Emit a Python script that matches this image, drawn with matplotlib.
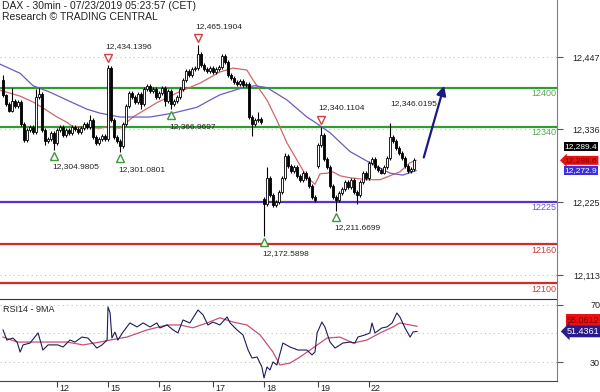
import matplotlib.pyplot as plt
from matplotlib import transforms

plt.rcParams['font.family'] = ['Liberation Sans', 'DejaVu Sans']

# DAX 30min candles, one entry per bar
closes = [12388, 12375, 12365, 12380, 12372, 12378, 12345, 12320, 12335, 12340,
          12332, 12385, 12390, 12335, 12318, 12322, 12330, 12315, 12335, 12340,
          12328, 12335, 12330, 12340, 12336, 12332, 12338, 12345, 12340, 12350,
          12325, 12315, 12322, 12326, 12322, 12430, 12350, 12325, 12318, 12310,
          12345, 12372, 12392, 12385, 12378, 12390, 12375, 12398, 12402, 12395,
          12398, 12385, 12392, 12400, 12380, 12395, 12375, 12380, 12385, 12398,
          12412, 12425, 12420, 12428, 12430, 12452, 12435, 12428, 12425, 12430,
          12424, 12428, 12432, 12448, 12440, 12420, 12415, 12408, 12405, 12410,
          12404, 12406, 12355, 12345, 12350, 12352, 12348, 12222, 12262, 12235,
          12220, 12225, 12240, 12262, 12295, 12280, 12272, 12278, 12265, 12258,
          12270, 12262, 12250, 12232, 12228, 12312, 12328, 12290, 12278, 12250,
          12232, 12228, 12238, 12245, 12255, 12248, 12258, 12240, 12235, 12255,
          12270, 12262, 12285, 12290, 12278, 12274, 12270, 12278, 12292, 12325,
          12318, 12308, 12300, 12292, 12280, 12272, 12276, 12289.4]
gap_opens = {0: 12412, 87: 12230, 105: 12280}
high_marks = {0: 12419, 3: 12400, 11: 12398, 12: 12400, 29: 12358, 35: 12434.1396,
              65: 12465.1904, 73: 12452, 85: 12362, 88: 12279, 94: 12300,
              106: 12340.1104, 129: 12346.0195}
low_marks = {14: 12312, 17: 12304.9805, 39: 12301.0801, 46: 12368, 54: 12372,
             56: 12366.9697, 83: 12326, 87: 12172.5898, 111: 12211.6699, 118: 12222}

# moving averages (bar position, price)
ma_red_x = [-1, 1.3, 5.7, 10, 13.3, 18, 21.3, 23.3, 32.3, 34.7, 39, 43.3, 51.3, 58,
            65.7, 72.3, 76.7, 81.3, 83.3, 88, 91.3, 94.7, 98, 101.3, 104, 105.7, 108,
            110, 112.3, 115.7, 121.3, 125.7, 129, 132.3, 135.7, 137.7]
ma_red_y = [12396, 12393, 12387, 12378, 12369, 12355, 12347, 12340, 12338, 12340,
            12338, 12355, 12377, 12392, 12407, 12424, 12430, 12427, 12412, 12381,
            12350, 12315, 12289, 12263, 12252, 12268, 12269, 12271, 12265, 12262,
            12259, 12259, 12265, 12271, 12285, 12288.6]
ma_blue_x = [-1, 5.7, 10, 15.7, 21.3, 28, 32.3, 39, 49, 56.7, 64.7, 69, 72.3, 80, 84,
             88, 94.7, 101.3, 104, 109, 115.7, 122.3, 129, 133.3, 137.7]
ma_blue_y = [12436, 12422, 12403, 12393, 12381, 12367, 12361, 12355, 12355, 12361,
             12370, 12381, 12389, 12400, 12403, 12400, 12381, 12355, 12347, 12331,
             12302, 12285, 12269, 12266, 12272.9]

# RSI14 and its 9MA
rsi_x = [0, 1.3, 3.3, 4.7, 5.7, 6.7, 9, 11.7, 13.3, 15, 18.3, 20, 22.3, 24, 26.3, 28.3,
         31.3, 33, 34.7, 35, 35.7, 36.3, 37.3, 38.3, 40, 42.3, 44.7, 46.7, 49, 51.3,
         52.3, 54.7, 56.7, 58.3, 60, 62.3, 65, 66.7, 68.3, 70, 72.3, 74.7, 75.7, 78,
         80, 81.7, 83, 84.7, 86.3, 87, 88, 89, 90, 91.3, 93.3, 95.7, 98.3, 101.3, 103,
         104, 104.7, 106.3, 107.3, 109, 110.7, 113.3, 115.7, 117.3, 118.3, 120.7,
         122.3, 123, 124, 126.3, 128, 129.7, 131.3, 132.3, 134, 135.7, 136.7, 138]
rsi_y = [52.5, 45.4, 46.8, 44, 37, 42, 43.3, 50.4, 38.4, 42, 42, 40.5, 45.4, 44, 47.5,
         46.8, 39.8, 42, 45.4, 68.6, 64.4, 46.8, 51, 45.4, 51, 57.4, 54.6, 57.4, 54.6,
         57.4, 53.9, 56, 52.5, 50.4, 59.5, 57.4, 66.5, 63, 56, 58, 56, 61.6, 57.4, 52.5,
         49, 38.4, 32.8, 33.5, 26.5, 18.8, 26.5, 24.4, 30, 27.9, 43.3, 40.5, 38.4, 38.4,
         35, 37, 50.4, 58, 54.6, 44, 39.8, 43.3, 44, 43.3, 47.5, 49, 50.4, 57.4, 50.4,
         53.9, 54.6, 57.4, 64.4, 61.6, 53.9, 47.5, 51.1, 51.4361]
rsi_ma_x = [0, 4.7, 10, 19, 21.3, 26.7, 32.3, 35.7, 41.3, 48, 54.7, 59, 63.3, 68, 72.3,
            76.7, 81.3, 85.7, 90, 92.3, 95.7, 99, 103.3, 108, 112.3, 116.7, 121.3, 125.7,
            130, 132.3, 135.7, 138]
rsi_ma_y = [47.5, 44, 44, 44, 44, 42, 44, 45.4, 47.5, 52.5, 56, 56, 54, 57.4, 61, 58,
            56, 49, 37, 27.9, 29.3, 33.5, 39.8, 46.8, 47.5, 43.3, 45.4, 50.4, 54.6, 57.4,
            56, 55.0612]

levels = [12400, 12340, 12225, 12160, 12100]
level_colors = ['#2f9e2f', '#2f9e2f', '#5b2fd6', '#d42a2a', '#d42a2a']
level_text_colors = ['#55a855', '#55a855', '#6a55c8', '#c84040', '#c84040']
price_ticks = [12113, 12225, 12336, 12447]
rsi_ticks = [30, 70]
day_pos = [18, 35, 52, 70, 87, 105, 122]
day_labels = ['12', '15', '16', '17', '18', '19', '22']
peak_bars = [35, 65, 106]
trough_bars = [17, 39, 56, 87, 111]
note_bars = [129]
arrow_from = (140, 12289)
arrow_to = (147.3, 12407)

n = len(closes)
opens = []
for i in range(n):
    if i in gap_opens:
        opens.append(gap_opens[i])
    else:
        opens.append(closes[i - 1])
highs = [high_marks.get(i, max(opens[i], closes[i]) + 3) for i in range(n)]
lows = [low_marks.get(i, min(opens[i], closes[i]) - 3) for i in range(n)]

fig = plt.figure(figsize=(6, 3.92), dpi=100)
ax = fig.add_axes([0, 1 - 296 / 392, 557 / 600, 296 / 392])
ax_r = fig.add_axes([0, 1 - 381 / 392, 557 / 600, 82 / 392])

grid_kw = dict(color='#c4c4c4', lw=0.8, linestyle=(0, (1, 3)), zorder=1)
for p in price_ticks:
    ax.axhline(p, **grid_kw)
for lv, c, tc in zip(levels, level_colors, level_text_colors):
    ax.axhline(lv, color=c, lw=1.6, zorder=1.5)
    ax.text(0.999, lv - 2, str(lv), transform=ax.get_yaxis_transform(), ha='right',
            va='top', fontsize=6.5, color=tc)

ax.plot(ma_red_x, ma_red_y, color='#d06868', lw=0.9, zorder=2.5)
ax.plot(ma_blue_x, ma_blue_y, color='#6a5cc0', lw=0.9, zorder=2.5)

xs = list(range(n))
ax.vlines(xs, lows, highs, color='black', lw=0.8, zorder=3)
for i in xs:
    o, c = opens[i], closes[i]
    h = max(abs(c - o), 1.5)
    face = 'white' if c >= o else 'black'
    ax.bar(i, h, bottom=min(o, c), width=0.72, facecolor=face, edgecolor='black',
           lw=0.6, zorder=4)

up = transforms.offset_copy(ax.transData, fig=fig, y=7, units='dots')
dn = transforms.offset_copy(ax.transData, fig=fig, y=-6, units='dots')
for b in peak_bars:
    ax.plot(b, highs[b], marker='v', ms=6, mfc='white', mec='#d04040', mew=1,
            transform=up, zorder=5)
    ax.annotate(f'{highs[b]:,.4f}', (b, highs[b]), xytext=(-3, 19), textcoords='offset pixels',
                ha='left', va='center', fontsize=6, color='#222222')
for b in note_bars:
    ax.annotate(f'{highs[b]:,.4f}', (b, highs[b]), xytext=(0, 19), textcoords='offset pixels',
                ha='left', va='center', fontsize=6, color='#222222')
for b in trough_bars:
    ax.plot(b, lows[b], marker='^', ms=6, mfc='white', mec='#3a9a3a', mew=1,
            transform=dn, zorder=5)
    ax.annotate(f'{lows[b]:,.4f}', (b, lows[b]), xytext=(-2, -17), textcoords='offset pixels',
                ha='left', va='center', fontsize=6, color='#222222')

ax.annotate('', xy=arrow_to, xytext=arrow_from,
            arrowprops=dict(arrowstyle='-|>', color='#1a1a80', lw=1.6, mutation_scale=14))

ax.set_xlim(-1, 184.67)
ax.set_ylim(12080.8, 12534.3)
ax.set_xticks([])
for s in ['left', 'top', 'bottom']:
    ax.spines[s].set_visible(False)
ax.spines['right'].set_color('#808080')
ax.yaxis.tick_right()
ax.set_yticks(price_ticks)
ax.set_yticklabels([f'{p:,}' for p in price_ticks])
ax.tick_params(axis='y', length=4, color='#555555', labelsize=6.5, labelcolor='#222222',
               pad=27)
for lab in ax.get_yticklabels():
    lab.set_horizontalalignment('right')

# price tags on the right axis
tag = transforms.offset_copy(ax.get_yaxis_transform(), fig=fig, y=13, units='dots')
ax.text(1.014, closes[-1], f'{closes[-1]:,.1f}', transform=tag, fontsize=6, color='white',
        va='center', ha='left', clip_on=False,
        bbox=dict(boxstyle='square,pad=0.12', fc='black', ec='none'))
ax.text(1.014, ma_red_y[-1], f'{ma_red_y[-1]:,.1f}', transform=ax.get_yaxis_transform(),
        fontsize=6, color='#7a0000', va='center', ha='left', clip_on=False,
        bbox=dict(boxstyle='larrow,pad=0.12', fc='#e81010', ec='none'))
ax.text(1.014, ma_blue_y[-1], f'{ma_blue_y[-1]:,.1f}', transform=ax.get_yaxis_transform(),
        fontsize=6, color='white', va='center', ha='left', clip_on=False,
        bbox=dict(boxstyle='square,pad=0.12', fc='#3c2ee0', ec='none'))

# RSI panel
for v in [30, 50, 70]:
    ax_r.axhline(v, **grid_kw)
ax_r.plot(rsi_ma_x, rsi_ma_y, color='#c85070', lw=0.9, zorder=2)
ax_r.plot(rsi_x, rsi_y, color='#1c1c5a', lw=0.8, zorder=3)
ax_r.text(0.005, 0.93, 'RSI14 - 9MA', transform=ax_r.transAxes, fontsize=6.5,
          va='top', ha='left', color='#222222')
ax_r.set_xlim(-1, 184.67)
ax_r.set_ylim(16.67, 74.2)
ax_r.spines['left'].set_visible(False)
ax_r.spines['top'].set_color('#333333')
ax_r.spines['bottom'].set_color('#444444')
ax_r.spines['right'].set_color('#808080')
ax_r.yaxis.tick_right()
ax_r.set_yticks(rsi_ticks)
ax_r.set_yticklabels([str(v) for v in rsi_ticks])
ax_r.tick_params(axis='y', length=4, color='#555555', labelsize=6.5, labelcolor='#222222',
                 pad=27)
for lab in ax_r.get_yticklabels():
    lab.set_horizontalalignment('right')
ax_r.set_xticks(day_pos)
ax_r.set_xticklabels(day_labels)
ax_r.tick_params(axis='x', length=4, color='#444444', labelsize=6.5, labelcolor='#222222',
                 pad=-2)
shift = transforms.ScaledTranslation(2 / 100, 0, fig.dpi_scale_trans)
for lab in ax_r.get_xticklabels():
    lab.set_horizontalalignment('left')
    lab.set_transform(lab.get_transform() + shift)

rtag = transforms.offset_copy(ax_r.get_yaxis_transform(), fig=fig, y=6, units='dots')
ax_r.text(1.018, rsi_ma_y[-1], f'{rsi_ma_y[-1]:.4f}', transform=rtag, fontsize=6.5,
          color='#7a0000', va='center', ha='left', clip_on=False,
          bbox=dict(boxstyle='square,pad=0.15', fc='#e81010', ec='none'))
ax_r.text(1.018, rsi_y[-1], f'{rsi_y[-1]:.4f}', transform=ax_r.get_yaxis_transform(),
          fontsize=6.5, color='white', va='center', ha='left', clip_on=False,
          bbox=dict(boxstyle='larrow,pad=0.15', fc='#2a1a8a', ec='none'))

# connect the right axis line through the gap between panels
fig.add_artist(plt.Line2D([557 / 600, 557 / 600], [1 - 299 / 392, 1 - 296 / 392],
                          color='#808080', lw=0.8))

fig.text(2 / 600, 1 - 6 / 392, 'DAX - 30min - 07/23/2019 05:23:57 (CET)', fontsize=7.5,
         va='center', ha='left', color='#222222')
fig.text(2 / 600, 1 - 17 / 392, 'Research \u00a9 TRADING CENTRAL', fontsize=7.5,
         va='center', ha='left', color='#222222')

fig.savefig('out.png', dpi=100)
